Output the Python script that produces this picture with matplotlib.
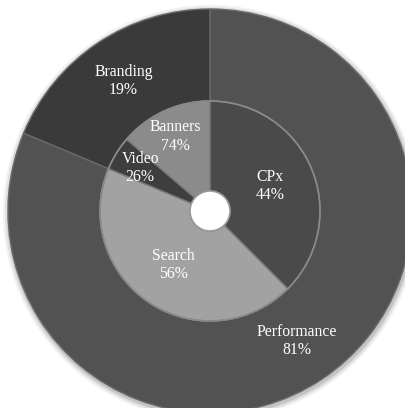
import numpy as np
import matplotlib.pyplot as plt

# outer ring
outer_labels = ['Performance', 'Branding']
outer_pct = ['81%', '19%']
outer_vals = [81.3, 18.7]

# inner ring (slice sizes as drawn, labels as printed)
inner_labels = ['CPx', 'Search', 'Video', 'Banners']
inner_pct = ['44%', '56%', '26%', '74%']
inner_vals = [37.5, 43.8, 5.0, 13.7]

outer_colors = ['#525252', '#3a3a3a']
inner_colors = ['#4a4a4a', '#a2a2a2', '#3e3e3e', '#8b8b8b']

W, H = 406, 408
cx, cy = 210, H - 211
r_out, r_mid, r_hole = 202, 110, 20

fig = plt.figure(figsize=(W / 100, H / 100), dpi=100)
ax = fig.add_axes([0, 0, 1, 1])
ax.set_xlim(0, W)
ax.set_ylim(0, H)
ax.set_aspect('equal')
ax.axis('off')

# soft shadow under the ring
for k, a in zip([6, 4, 2], [0.05, 0.08, 0.12]):
    ax.add_patch(plt.Circle((cx + 1, cy - 2), r_out + k, color='black', alpha=a, lw=0))

wo, _ = ax.pie(outer_vals, radius=r_out, center=(cx, cy), startangle=90,
               counterclock=False, colors=outer_colors,
               wedgeprops=dict(width=r_out - r_mid, edgecolor='#6a6a6a', linewidth=1))
wi, _ = ax.pie(inner_vals, radius=r_mid, center=(cx, cy), startangle=90,
               counterclock=False, colors=inner_colors,
               wedgeprops=dict(width=r_mid - r_hole, edgecolor='#777777', linewidth=1))

# ring border highlights
ax.add_patch(plt.Circle((cx, cy), r_mid, fill=False, ec='#8a8a8a', lw=1.2))
ax.add_patch(plt.Circle((cx, cy), r_hole, fc='white', ec='#9a9a9a', lw=1.2))
ax.set_xlim(0, W)
ax.set_ylim(0, H)

font = dict(family='Liberation Serif', size=11.3, color='white',
            ha='center', va='center', linespacing=1.2)


def put_labels(wedges, names, pcts, radii):
    for w, n, p, r in zip(wedges, names, pcts, radii):
        ang = np.deg2rad((w.theta1 + w.theta2) / 2)
        ax.text(cx + r * np.cos(ang), cy + r * np.sin(ang), n + '\n' + p, **font)


put_labels(wo, outer_labels, outer_pct, [156, 156])
put_labels(wi, inner_labels, inner_pct, [65, 65, 82, 82])

fig.savefig('out.png', dpi=100, facecolor='white')
